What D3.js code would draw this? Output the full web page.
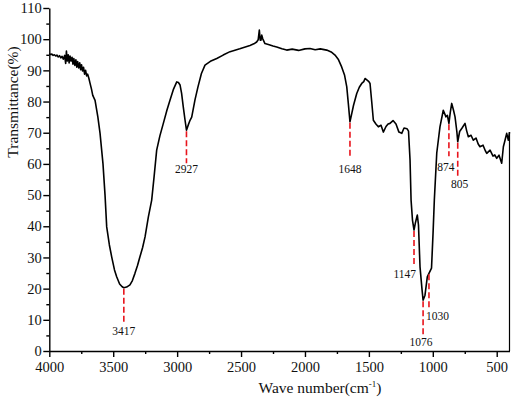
<!DOCTYPE html>
<html>

<head>
  <meta charset="utf8">
  <script src="https://d3js.org/d3.v7.min.js"></script>
  <style>
    body {
      margin: 0;
      background: #fff;
    }

    .axis path,
    .axis line {
      stroke: #000;
      stroke-width: 1.4;
    }
  </style>
</head>

<body>
  <svg id="chart" width="512" height="399"></svg>
  <script>
    // wavenumber (cm-1) and transmittance (%)
    var waveNumbers = [
      4000, 3990, 3980, 3970, 3960, 3950, 3940, 3930, 3920, 3910, 3900, 3890, 3880, 3872, 3866,
      3860, 3852, 3845, 3838, 3830, 3822, 3815, 3808, 3800, 3792, 3785, 3778, 3770, 3762, 3755,
      3748, 3740, 3732, 3724, 3716, 3708, 3700, 3690, 3682, 3670, 3660, 3642, 3620, 3603, 3580,
      3564, 3551, 3530, 3512, 3490, 3473, 3450, 3430, 3417, 3395, 3369, 3350, 3330, 3310, 3291,
      3270, 3251, 3225, 3199, 3180, 3160, 3135, 3108, 3080, 3056, 3030, 3003, 2990, 2977, 2965,
      2952, 2938, 2927, 2912, 2899, 2886, 2860, 2837, 2810, 2782, 2740, 2690, 2640, 2586, 2510,
      2430, 2400, 2378, 2366, 2357, 2350, 2344, 2338, 2331, 2313, 2280, 2250, 2221, 2180, 2143,
      2100, 2050, 2000, 1961, 1920, 1880, 1830, 1795, 1765, 1740, 1713, 1690, 1673, 1660, 1648,
      1620, 1595, 1575, 1556, 1540, 1530, 1514, 1500, 1491, 1478, 1465, 1445, 1426, 1405, 1387,
      1366, 1350, 1335, 1311, 1288, 1265, 1243, 1225, 1202, 1190, 1178, 1170, 1159, 1147, 1135,
      1121, 1112, 1100, 1084, 1076, 1061, 1043, 1030, 1010, 998, 988, 969, 944, 918, 897,
      886, 874, 863, 852, 838, 826, 812, 805, 790, 771, 748, 735, 722, 701, 683,
      662, 645, 631, 607, 590, 578, 552, 529, 515, 500, 482, 461, 448, 435, 422,
      409, 400
    ];

    var transmittance = [
      95.3, 95.1, 95.2, 94.8, 95.0, 94.6, 94.9, 94.3, 94.7, 94.0, 94.5, 93.6, 94.8, 92.2, 96.2,
      93.0, 95.0, 92.4, 94.6, 93.0, 94.2, 92.0, 93.8, 91.6, 93.4, 91.0, 92.8, 90.8, 92.4, 90.2,
      91.8, 89.8, 91.0, 88.8, 90.0, 88.2, 88.8, 87.4, 86.0, 84.0, 82.0, 80.4, 75.0, 69.8, 60.0,
      50.0, 39.8, 34.0, 30.2, 26.0, 23.8, 21.5, 20.6, 20.3, 20.5, 21.2, 22.6, 24.9, 27.4, 30.2,
      33.2, 36.6, 43.0, 48.4, 56.0, 64.4, 69.0, 73.0, 77.2, 80.4, 83.8, 86.3, 86.1, 85.3, 82.6,
      78.3, 74.0, 70.8, 72.6, 74.0, 75.0, 80.6, 84.7, 89.0, 91.7, 92.9, 93.8, 94.9, 96.0, 96.9,
      98.0, 98.5, 99.1, 99.8, 102.9, 99.7, 99.7, 101.3, 100.2, 98.6, 98.2, 97.8, 97.5, 96.9, 96.5,
      96.8, 96.4, 96.9, 97.0, 96.6, 96.9, 96.5, 95.9, 94.9, 93.6, 91.1, 88.4, 84.7, 79.0, 73.5,
      78.8, 82.6, 84.6, 85.8, 86.4, 87.4, 86.9, 86.4, 85.8, 80.0, 74.0, 72.8, 71.9, 72.4, 70.2,
      72.0, 72.8, 73.0, 73.9, 72.8, 70.2, 69.8, 71.5, 71.3, 70.5, 61.2, 48.4, 42.0, 38.8, 41.3,
      43.6, 40.4, 27.0, 19.6, 16.3, 17.9, 23.8, 24.9, 26.6, 37.8, 48.4, 63.5, 71.9, 77.2, 75.1,
      75.6, 73.0, 76.6, 79.4, 77.2, 75.1, 70.4, 67.1, 70.4, 71.5, 73.0, 70.6, 68.7, 69.2, 67.6,
      68.3, 66.4, 65.5, 66.0, 64.3, 63.4, 64.4, 62.5, 62.9, 61.8, 62.8, 60.2, 65.5, 67.6, 69.8,
      67.6, 70.2
    ];

    var xTicks = [4000, 3500, 3000, 2500, 2000, 1500, 1000, 500];
    var xMinorTicks = [3750, 3250, 2750, 2250, 1750, 1250, 750];
    var yTicks = [0, 10, 20, 30, 40, 50, 60, 70, 80, 90, 100, 110];
    var yMinorTicks = [5, 15, 25, 35, 45, 55, 65, 75, 85, 95, 105];

    var peaks = ['3417', '2927', '1648', '1147', '1076', '1030', '874', '805'];
    // label placement per peak: [dash length, label dx, label dy, anchor]
    var peakLayout = {
      '3417': [33, 0, 46, 'middle'],
      '2927': [32, 0, 42, 'middle'],
      '1648': [33, 0, 50, 'middle'],
      '1147': [34, 2, 47, 'end'],
      '1076': [33, -2, 45, 'middle'],
      '1030': [33, -3, 46, 'start'],
      '874': [32, -3, 47, 'middle'],
      '805': [35, 2, 45, 'middle']
    };

    var serif = '"Liberation Serif", "Times New Roman", serif';

    var data = waveNumbers.map((w, i) => ({ w: w, t: transmittance[i] }));

    var chart = d3.select('#chart');
    var margin = { left: 49.3, right: 2.5, top: 8, bottom: 48 };
    var width = +chart.attr('width');
    var height = +chart.attr('height');

    var x = d3.scaleLinear()
      .domain([4000, 400])
      .range([margin.left, width - margin.right]);

    var y = d3.scaleLinear()
      .domain([0, 110])
      .range([height - margin.bottom, margin.top]);

    // axes
    chart.append('g')
      .attr('class', 'axis')
      .attr('transform', 'translate(0,' + y(0) + ')')
      .call(d3.axisBottom(x).tickValues(xMinorTicks).tickSize(3).tickFormat(''))
      .call((g) => g.select('.domain').remove());

    chart.append('g')
      .attr('class', 'axis')
      .attr('transform', 'translate(0,' + y(0) + ')')
      .call(d3.axisBottom(x).tickValues(xTicks).tickSize(6).tickSizeOuter(0).tickPadding(5).tickFormat(d3.format('d')));

    chart.append('g')
      .attr('class', 'axis')
      .attr('transform', 'translate(' + x(4000) + ',0)')
      .call(d3.axisLeft(y).tickValues(yMinorTicks).tickSize(3).tickFormat(''))
      .call((g) => g.select('.domain').remove());

    chart.append('g')
      .attr('class', 'axis')
      .attr('transform', 'translate(' + x(4000) + ',0)')
      .call(d3.axisLeft(y).tickValues(yTicks).tickSize(6).tickSizeOuter(0).tickPadding(1.5));

    chart.selectAll('.axis text')
      .style('font-family', serif)
      .style('font-size', '14.5px')
      .attr('fill', '#111');

    // right edge line of the frame
    var last = data[data.length - 1];
    chart.append('line')
      .attr('x1', x(last.w)).attr('x2', x(last.w))
      .attr('y1', y(last.t)).attr('y2', y(0))
      .attr('stroke', '#000')
      .attr('stroke-width', 1.2);

    // spectrum
    var line = d3.line()
      .x((d) => x(d.w))
      .y((d) => y(d.t));

    chart.append('path')
      .datum(data)
      .attr('fill', 'none')
      .attr('stroke', '#000')
      .attr('stroke-width', 1.6)
      .attr('stroke-linejoin', 'round')
      .attr('d', line);

    // peak marks
    var peak = chart.selectAll('.peak')
      .data(peaks)
      .enter()
      .append('g')
      .attr('class', 'peak')
      .attr('transform', (p) => {
        var d = data.find((d) => d.w === +p);
        return 'translate(' + x(d.w) + ',' + (y(d.t) + 1) + ')';
      });

    peak.append('line')
      .attr('y1', 0)
      .attr('y2', (p) => peakLayout[p][0])
      .attr('stroke', '#e8141c')
      .attr('stroke-width', 1.6)
      .attr('stroke-dasharray', '6,3');

    peak.append('text')
      .attr('x', (p) => peakLayout[p][1])
      .attr('y', (p) => peakLayout[p][2])
      .attr('text-anchor', (p) => peakLayout[p][3])
      .style('font-family', serif)
      .style('font-size', '11.5px')
      .attr('fill', '#111')
      .text((p) => p);

    // axis titles
    chart.append('text')
      .attr('transform', 'translate(18,102) rotate(-90)')
      .attr('text-anchor', 'middle')
      .style('font-family', serif)
      .style('font-size', '15.5px')
      .attr('fill', '#111')
      .text('Transmittance(%)');

    var xt = chart.append('text')
      .attr('x', 320)
      .attr('y', 393)
      .attr('text-anchor', 'middle')
      .style('font-family', serif)
      .style('font-size', '15.5px')
      .attr('fill', '#111');
    xt.append('tspan').text('Wave number(cm');
    xt.append('tspan').style('font-size', '9px').attr('dy', -6).text('-1');
    xt.append('tspan').attr('dy', 6).text(')');
  </script>
</body>

</html>
